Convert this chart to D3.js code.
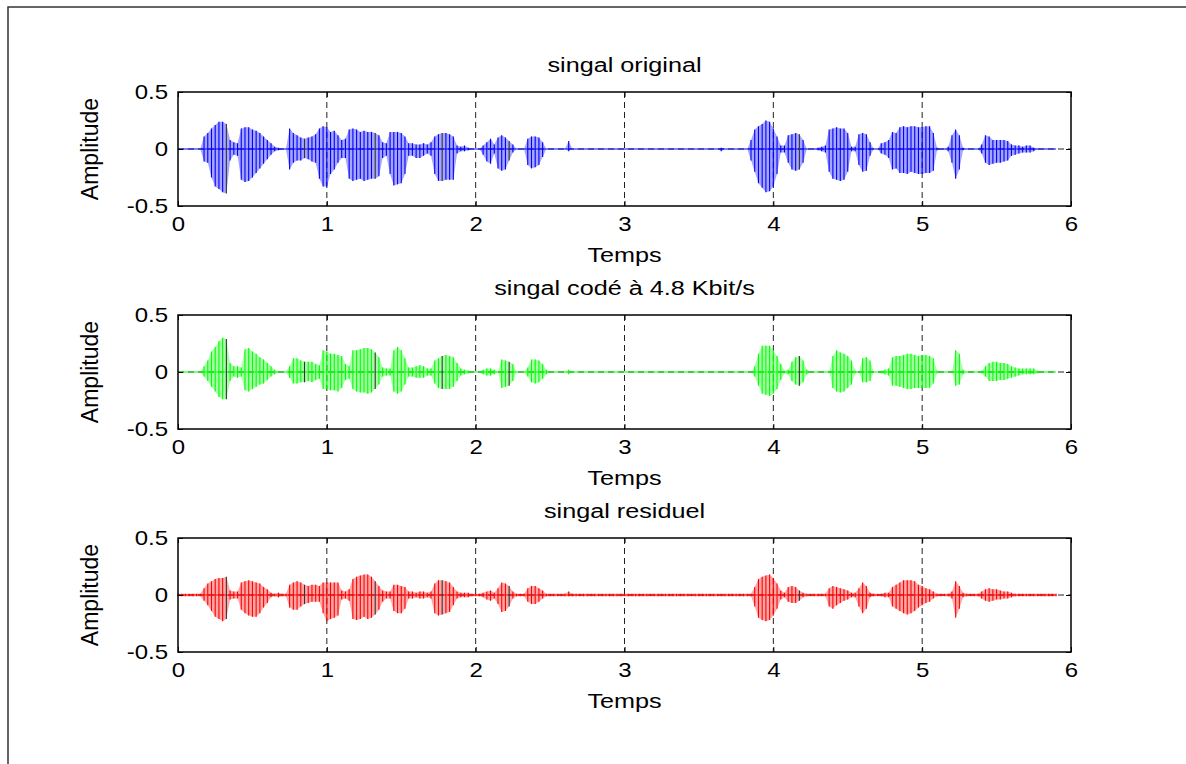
<!DOCTYPE html>
<html>
<head>
<meta charset="utf-8">
<script src="https://cdn.jsdelivr.net/npm/d3@7"></script>
<style>
  body { margin: 0; background: #fff; }
  text { font-family: "Liberation Sans", Arial, sans-serif; fill: #000; }
</style>
</head>
<body>
<svg id="chart" width="1186" height="764"></svg>
<script>
// envelope of each signal, sampled every dt seconds, in hundredths of amplitude
const dt = 0.025;
const ampUnit = 100;

const xTicks = [0, 1, 2, 3, 4, 5, 6];
const yTicks = [-0.5, 0, 0.5];
const gridX = [1, 2, 3, 4, 5];
const gridY = [0];

const titles = ["singal original", "singal codé à 4.8 Kbit/s", "singal residuel"];
const colors = ["#0000ff", "#00ff00", "#ff0000"];

// times where the striations print dark in the picture
const darkTimes = [0.32, 0.85, 1.32, 1.77, 2.22, 4.18, 4.68, 5.71];

const origUp = [
  0,0,0,0,0,0,0,11,14,18,
  21,24,24,22,8,6,5,18,19,19,
  17,16,14,11,8,5,2,1,0,0,
  18,14,12,10,9,10,11,13,18,20,
  19,15,16,12,8,9,17,18,17,15,
  16,15,15,14,12,6,5,15,15,15,
  14,11,5,5,4,4,5,4,6,11,
  13,14,14,13,11,3,2,3,1,0,
  0,0,3,6,9,4,10,12,10,7,
  4,0,0,0,9,11,11,10,6,0,
  0,0,0,0,0,7,0,0,0,0,
  0,0,0,0,0,0,0,0,0,0,
  0,0,0,0,0,0,0,0,0,0,
  0,0,0,0,0,0,0,0,0,0,
  0,0,0,0,0,0,1,0,0,0,
  0,0,0,0,8,17,20,22,25,24,
  18,11,3,3,12,13,14,13,8,0,
  0,0,1,2,3,17,18,19,18,18,
  14,2,2,13,14,13,6,0,0,5,
  6,8,15,14,19,20,19,20,20,19,
  19,20,20,14,1,0,0,2,12,17,
  12,1,0,0,0,0,4,12,11,8,
  8,8,8,7,4,3,3,2,3,3,
  1,0,0,0,0,0,0
];
const origLo = [
  0,0,0,0,0,0,0,-11,-12,-25,
  -33,-35,-38,-39,-10,-5,-6,-27,-29,-28,
  -25,-21,-17,-13,-9,-5,-2,-1,0,0,
  -18,-12,-10,-10,-8,-9,-11,-12,-26,-33,
  -33,-22,-18,-12,-8,-8,-26,-28,-27,-26,
  -28,-27,-26,-26,-24,-8,-6,-22,-32,-31,
  -30,-22,-6,-6,-8,-8,-6,-4,-6,-22,
  -28,-28,-27,-27,-27,-4,-2,-2,-1,0,
  0,0,-5,-11,-13,-4,-17,-19,-18,-10,
  -3,0,0,0,-14,-17,-16,-14,-7,0,
  0,0,0,0,0,-2,0,0,0,0,
  0,0,0,0,0,0,0,0,0,0,
  0,0,0,0,0,0,0,0,0,0,
  0,0,0,0,0,0,0,0,0,0,
  0,0,0,0,0,0,-2,0,0,0,
  0,0,0,0,-10,-20,-30,-34,-38,-37,
  -33,-22,-3,-3,-12,-18,-19,-18,-12,0,
  0,0,-1,-2,-3,-20,-26,-27,-28,-27,
  -20,-2,-2,-14,-20,-19,-6,0,0,-4,
  -5,-8,-18,-17,-21,-21,-22,-20,-21,-22,
  -22,-21,-21,-19,-1,0,0,-2,-12,-26,
  -18,-1,0,0,0,0,-4,-12,-14,-13,
  -12,-12,-11,-10,-6,-5,-4,-3,-3,-3,
  -2,0,0,0,0,0,0
];

const codUp = [
  0,0,0,0,0,0,0,5,10,18,
  22,27,30,29,8,5,5,4,20,21,
  18,16,13,11,8,5,2,0,0,0,
  5,12,12,10,9,9,9,7,6,19,
  18,16,16,15,14,7,5,19,19,20,
  21,21,20,17,13,4,3,3,19,22,
  19,12,4,4,5,6,5,3,3,10,
  12,14,15,14,13,8,3,2,1,0,
  0,0,2,3,3,2,0,11,10,9,
  7,0,0,0,4,11,11,10,7,2,
  0,0,0,0,0,2,0,0,0,0,
  0,0,0,0,0,0,0,0,0,0,
  0,0,0,0,0,0,0,0,0,0,
  0,0,0,0,0,0,0,0,0,0,
  0,0,0,0,0,0,0,0,0,0,
  0,0,0,0,0,5,16,23,23,23,
  19,14,7,1,2,9,13,14,10,2,
  0,0,0,0,0,0,14,19,17,16,
  14,10,1,0,12,13,10,0,0,1,
  2,3,13,14,14,15,16,16,15,14,
  15,15,14,12,1,0,0,0,0,19,
  16,2,0,0,0,0,1,5,8,9,
  9,8,8,7,5,4,3,3,3,3,
  3,1,0,0,0,0,0
];
const codLo = [
  0,0,0,0,0,0,0,-4,-8,-13,
  -17,-22,-24,-24,-8,-4,-5,-4,-16,-17,
  -15,-13,-11,-10,-7,-4,-2,0,0,0,
  -5,-10,-10,-9,-9,-8,-9,-7,-6,-15,
  -15,-16,-16,-17,-14,-7,-6,-15,-17,-18,
  -18,-19,-18,-15,-11,-4,-3,-3,-17,-19,
  -17,-11,-4,-4,-5,-5,-5,-3,-3,-10,
  -14,-15,-15,-15,-13,-8,-3,-2,-1,0,
  0,0,-2,-3,-3,-2,0,-14,-13,-12,
  -8,0,0,0,-4,-9,-10,-9,-6,-2,
  0,0,0,0,0,-2,0,0,0,0,
  0,0,0,0,0,0,0,0,0,0,
  0,0,0,0,0,0,0,0,0,0,
  0,0,0,0,0,0,0,0,0,0,
  0,0,0,0,0,0,0,0,0,0,
  0,0,0,0,0,-4,-12,-19,-20,-21,
  -19,-15,-7,-1,-2,-8,-11,-12,-9,-2,
  0,0,0,0,0,0,-14,-17,-18,-17,
  -14,-11,-1,0,-9,-9,-8,0,0,-1,
  -2,-3,-12,-12,-13,-14,-15,-15,-14,-14,
  -14,-14,-14,-10,-1,0,0,0,0,-12,
  -11,-2,0,0,0,0,-1,-4,-8,-8,
  -8,-7,-7,-6,-5,-4,-3,-2,-2,-2,
  -2,-1,0,0,0,0,0
];

const resUp = [
  1,1,1,1,1,1,1,6,10,12,
  14,15,15,16,4,3,3,11,12,13,
  12,11,10,7,5,2,1,2,1,1,
  9,11,12,11,9,8,9,9,8,11,
  11,11,11,11,4,3,5,14,16,17,
  18,18,16,12,8,4,3,3,9,9,
  8,7,3,3,2,3,3,2,3,10,
  13,13,12,11,7,3,2,2,2,1,
  1,1,2,3,4,2,6,11,10,8,
  3,1,1,1,6,8,8,6,4,1,
  1,1,1,1,1,3,1,1,1,1,
  1,1,1,1,1,1,1,1,1,1,
  1,1,1,1,1,1,1,1,1,1,
  1,1,1,1,1,1,1,1,1,1,
  1,1,1,1,1,1,1,1,1,1,
  1,1,1,1,1,7,14,16,17,18,
  15,10,4,2,7,8,7,4,2,1,
  1,1,1,1,1,6,8,7,6,5,
  4,2,2,6,11,8,2,1,1,1,
  2,2,7,9,11,13,13,13,12,9,
  8,6,5,3,1,1,1,1,3,12,
  8,2,1,1,1,1,3,5,6,5,
  5,4,3,3,2,1,1,1,1,1,
  1,1,1,1,1,1,1
];
const resLo = [
  -1,-1,-1,-1,-1,-1,-1,-5,-9,-14,
  -19,-21,-23,-21,-4,-3,-3,-13,-16,-18,
  -19,-19,-16,-11,-7,-2,-1,-2,-1,-1,
  -11,-13,-13,-10,-8,-7,-6,-6,-6,-16,
  -23,-21,-20,-18,-4,-3,-5,-21,-22,-21,
  -19,-21,-20,-17,-13,-6,-3,-3,-14,-16,
  -16,-12,-3,-3,-2,-3,-3,-2,-3,-16,
  -18,-17,-16,-15,-9,-3,-2,-2,-2,-1,
  -1,-1,-2,-4,-5,-3,-8,-15,-14,-10,
  -3,-1,-1,-1,-6,-8,-8,-6,-3,-1,
  -1,-1,-1,-1,-1,-1,-1,-1,-1,-1,
  -1,-1,-1,-1,-1,-1,-1,-1,-1,-1,
  -1,-1,-1,-1,-1,-1,-1,-1,-1,-1,
  -1,-1,-1,-1,-1,-1,-1,-1,-1,-1,
  -1,-1,-1,-1,-1,-1,-1,-1,-1,-1,
  -1,-1,-1,-1,-1,-10,-20,-22,-23,-22,
  -18,-12,-4,-2,-6,-7,-7,-5,-2,-1,
  -1,-1,-1,-1,-1,-10,-12,-9,-7,-5,
  -4,-2,-2,-10,-16,-12,-2,-1,-1,-1,
  -2,-2,-10,-12,-14,-16,-17,-16,-14,-11,
  -9,-7,-6,-3,-1,-1,-1,-1,-3,-20,
  -12,-2,-1,-1,-1,-1,-3,-5,-6,-5,
  -4,-4,-3,-3,-2,-1,-1,-1,-1,-1,
  -1,-1,-1,-1,-1,-1,-1
];

const signals = [
  { up: origUp, lo: origLo },
  { up: codUp, lo: codLo },
  { up: resUp, lo: resLo }
];

////////////// layout
const W = 1186, H = 764;
const left = 178, right = 1071;
const plotH = 114;
const tops = [92, 315, 538];
const stretch = 1.2;   // the picture's text is wider than tall

const svg = d3.select("#chart");

// figure frame
svg.append("rect")
  .attr("x", 8).attr("y", 7)
  .attr("width", W).attr("height", H)
  .attr("fill", "none")
  .attr("stroke", "#333")
  .attr("stroke-width", 1.5);

const x = d3.scaleLinear().domain([0, 6]).range([left, right]);

function wideText(sel, px, py, size, anchor, str) {
  return sel.append("text")
    .attr("transform", `translate(${px},${py}) scale(${stretch},1)`)
    .attr("text-anchor", anchor)
    .style("font-size", size + "px")
    .text(str);
}

signals.forEach((s, k) => {
  const top = tops[k];
  const y = d3.scaleLinear().domain([-0.5, 0.5]).range([top + plotH, top]);
  const g = svg.append("g");
  const col = colors[k];

  // grid
  g.selectAll(".gx").data(gridX).enter().append("line")
    .attr("x1", d => x(d)).attr("x2", d => x(d))
    .attr("y1", top).attr("y2", top + plotH)
    .attr("stroke", "#222").attr("stroke-width", 1)
    .attr("stroke-dasharray", "6,4");
  g.selectAll(".gy").data(gridY).enter().append("line")
    .attr("x1", left).attr("x2", right)
    .attr("y1", d => y(d)).attr("y2", d => y(d))
    .attr("stroke", "#222").attr("stroke-width", 1)
    .attr("stroke-dasharray", "6,4");

  const pts = s.up.map((u, i) => ({ t: i * dt, up: u / ampUnit, lo: s.lo[i] / ampUnit }));

  // pale fill between striations
  const area = d3.area()
    .x(d => x(d.t))
    .y0(d => y(d.lo))
    .y1(d => y(d.up));
  g.append("path")
    .datum(pts)
    .attr("d", area)
    .attr("fill", col)
    .attr("fill-opacity", 0.35)
    .attr("stroke", "none");

  // baseline of the trace
  g.append("line")
    .attr("x1", x(pts[0].t)).attr("x2", x(pts[pts.length - 1].t))
    .attr("y1", y(0)).attr("y2", y(0))
    .attr("stroke", col).attr("stroke-width", 1);

  const isDark = d => darkTimes.some(t => Math.abs(t - d.t) < dt * 0.6);

  // vertical striations
  g.selectAll(".st").data(pts.filter(d => d.up - d.lo > 0)).enter().append("line")
    .attr("x1", d => x(d.t)).attr("x2", d => x(d.t))
    .attr("y1", d => y(d.lo)).attr("y2", d => y(d.up))
    .attr("stroke", d => isDark(d) && d.up - d.lo > 0.06 ? "#333" : col)
    .attr("stroke-width", 1.1);

  // axes, ticks inside
  const ax = g.append("g").attr("transform", `translate(0,${top + plotH})`)
    .call(d3.axisBottom(x).tickValues(xTicks).tickSize(-5).tickPadding(11).tickFormat(d => String(d)));
  const axTop = g.append("g").attr("transform", `translate(0,${top})`)
    .call(d3.axisTop(x).tickValues(xTicks).tickSize(-5).tickFormat(""));
  const ay = g.append("g").attr("transform", `translate(${left},0)`)
    .call(d3.axisLeft(y).tickValues(yTicks).tickSize(-5).tickPadding(10).tickFormat(d => String(d)));
  const ayR = g.append("g").attr("transform", `translate(${right},0)`)
    .call(d3.axisRight(y).tickValues(yTicks).tickSize(-5).tickFormat(""));

  [ax, axTop, ay, ayR].forEach(a => {
    a.select(".domain").remove();
    a.selectAll(".tick line").attr("stroke", "#000");
    a.selectAll(".tick text")
      .style("font-family", '"Liberation Sans", Arial, sans-serif')
      .style("font-size", "20px")
      .attr("fill", "#000");
  });
  // widen tick labels like the picture
  ax.selectAll(".tick text").attr("transform", `scale(${stretch},1)`);
  ay.selectAll(".tick text")
    .attr("x", -10 / stretch)
    .attr("transform", `scale(${stretch},1)`);

  // box
  g.append("rect")
    .attr("x", left).attr("y", top)
    .attr("width", right - left).attr("height", plotH)
    .attr("fill", "none")
    .attr("stroke", "#000")
    .attr("stroke-width", 1.5);

  // title and x label
  wideText(g, (left + right) / 2, top - 20, 21, "middle", titles[k]);
  wideText(g, (left + right) / 2, top + plotH + 56, 21, "middle", "Temps");

  // y label
  g.append("text")
    .attr("transform", `translate(98,${top + plotH / 2}) rotate(-90)`)
    .attr("text-anchor", "middle")
    .style("font-size", "23px")
    .text("Amplitude");
});
</script>
</body>
</html>
